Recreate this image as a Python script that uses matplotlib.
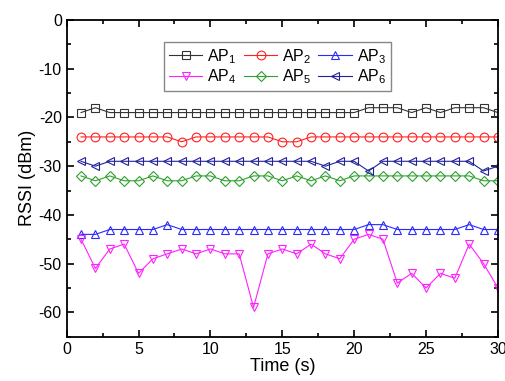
import matplotlib
matplotlib.use("Agg")
import matplotlib.pyplot as plt
from matplotlib.ticker import MultipleLocator

plt.rcParams['font.family'] = ['Liberation Sans', 'DejaVu Sans']
plt.rcParams['mathtext.fontset'] = 'custom'
plt.rcParams['mathtext.rm'] = 'Liberation Sans'
plt.rcParams['mathtext.it'] = 'Liberation Sans'
plt.rcParams['axes.unicode_minus'] = False

# time axis (s)
t = list(range(1, 31))

# RSSI readings (dBm) per access point
ap1 = [-19, -18, -19, -19, -19, -19, -19, -19, -19, -19, -19, -19, -19, -19, -19,
       -19, -19, -19, -19, -19, -18, -18, -18, -19, -18, -19, -18, -18, -18, -19]
ap2 = [-24, -24, -24, -24, -24, -24, -24, -25, -24, -24, -24, -24, -24, -24, -25,
       -25, -24, -24, -24, -24, -24, -24, -24, -24, -24, -24, -24, -24, -24, -24]
ap3 = [-44, -44, -43, -43, -43, -43, -42, -43, -43, -43, -43, -43, -43, -43, -43,
       -43, -43, -43, -43, -43, -42, -42, -43, -43, -43, -43, -43, -42, -43, -43]
ap4 = [-45, -51, -47, -46, -52, -49, -48, -47, -48, -47, -48, -48, -59, -48, -47,
       -48, -46, -48, -49, -45, -44, -45, -54, -52, -55, -52, -53, -46, -50, -55]
ap5 = [-32, -33, -32, -33, -33, -32, -33, -33, -32, -32, -33, -33, -32, -32, -33,
       -32, -33, -32, -33, -32, -32, -32, -32, -32, -32, -32, -32, -32, -33, -33]
ap6 = [-29, -30, -29, -29, -29, -29, -29, -29, -29, -29, -29, -29, -29, -29, -29,
       -29, -29, -30, -29, -29, -31, -29, -29, -29, -29, -29, -29, -29, -31, -30]

series = [
    (ap1, r'AP$_1$', '#333333', 's'),
    (ap2, r'AP$_2$', '#ff2020', 'o'),
    (ap3, r'AP$_3$', '#2a2aff', '^'),
    (ap4, r'AP$_4$', '#ff20ff', 'v'),
    (ap5, r'AP$_5$', '#2ea02e', 'D'),
    (ap6, r'AP$_6$', '#22229a', '<'),
]

fig = plt.figure(figsize=(5.05, 3.81), dpi=100)
ax = fig.add_axes([0.132, 0.1163, 0.854, 0.8312])

handles = []
for vals, lab, col, mk in series:
    ms = 5.2 if mk == 'D' else 6.3
    h, = ax.plot(t, vals, color=col, lw=0.8, marker=mk, ms=ms,
                 mfc='none', mec=col, mew=0.8, label=lab)
    handles.append(h)

ax.set_xlim(0, 30)
ax.set_ylim(-65, 0)
ax.xaxis.set_major_locator(MultipleLocator(5))
ax.xaxis.set_minor_locator(MultipleLocator(2.5))
ax.yaxis.set_major_locator(MultipleLocator(10))
ax.yaxis.set_minor_locator(MultipleLocator(5))
ax.tick_params(which='both', direction='in', top=True, right=True,
               labelsize=11.5, width=1.2)
ax.tick_params(which='major', length=5)
ax.tick_params(which='minor', length=3)
for sp in ax.spines.values():
    sp.set_linewidth(1.3)

ax.set_xlabel('Time (s)', fontsize=13, labelpad=1)
ax.set_ylabel('RSSI (dBm)', fontsize=13, labelpad=2)

# legend filled row by row: AP1 AP2 AP3 / AP4 AP5 AP6
order = [0, 3, 1, 4, 2, 5]
leg = ax.legend([handles[i] for i in order], [series[i][1] for i in order],
                ncol=3, loc='upper left', bbox_to_anchor=(0.226, 0.93),
                fontsize=11.5, handlelength=2.1, columnspacing=0.45,
                handletextpad=0.3, labelspacing=0.1, borderpad=0.3,
                borderaxespad=0, fancybox=False, framealpha=1)
leg.get_frame().set_edgecolor('#888888')
leg.get_frame().set_linewidth(1.0)

fig.savefig('out.png', dpi=100)
